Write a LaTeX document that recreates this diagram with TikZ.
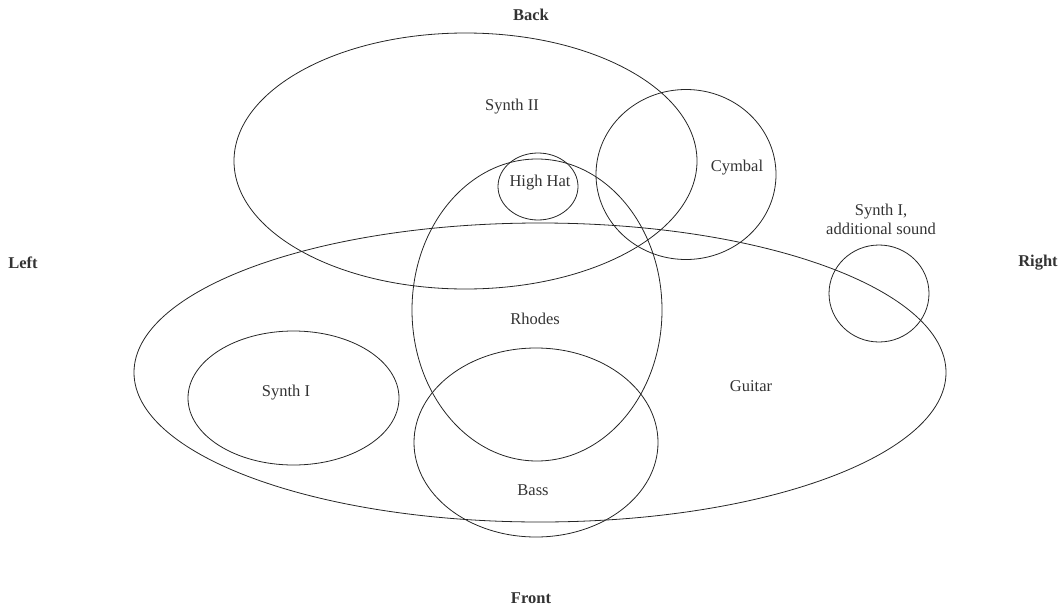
\documentclass[tikz,border=0pt]{standalone}
\usepackage{fontspec}
\setmainfont{Liberation Serif}

\begin{document}
\begin{tikzpicture}[x=1pt, y=-1pt, line width=0.8pt,
  every node/.style={font=\fontsize{16.5}{19}\selectfont, text=black!80},
  edge/.style={draw=black!85, line width=0.8pt},
  side/.style={font=\fontsize{16.5}{19}\selectfont\bfseries}]
	\useasboundingbox (0,0) rectangle (1063,608);

	% 1. 方位标签
	\node[side] (back)  at (531,15)  {Back};
	\node[side] (front) at (531,598) {Front};
	\node[side] (left)  at (23,263)  {Left};
	\node[side] (right) at (1038,263) {Right};

	% 2. 各声部范围
	\draw[edge] (465.5,161) ellipse [x radius=231.5, y radius=128];
	\draw[edge] (540,372.5) ellipse [x radius=406, y radius=149.5];
	\draw[edge] (686,174.5) ellipse [x radius=90, y radius=85];
	\draw[edge] (538,186.5) ellipse [x radius=40, y radius=33.5];
	\draw[edge] (537,310) ellipse [x radius=125, y radius=151];
	\draw[edge] (536,442.5) ellipse [x radius=122, y radius=94.5];
	\draw[edge] (293.5,398) ellipse [x radius=105.5, y radius=67];
	\draw[edge] (879,293.5) ellipse [x radius=50, y radius=48.5];

	% 3. 乐器名称
	\node (synthtwo) at (512,107) {Synth II};
	\node (cymbal)   at (737,168) {Cymbal};
	\node (highhat)  at (540,183) {High Hat};
	\node (rhodes)   at (535,319) {Rhodes};
	\node (bass)     at (533,490) {Bass};
	\node (guitar)   at (751,386) {Guitar};
	\node (synthone) at (286,393) {Synth I};
	\node[align=center] (synthadd) at (881,219) {Synth I,\\additional sound};
\end{tikzpicture}
\end{document}
